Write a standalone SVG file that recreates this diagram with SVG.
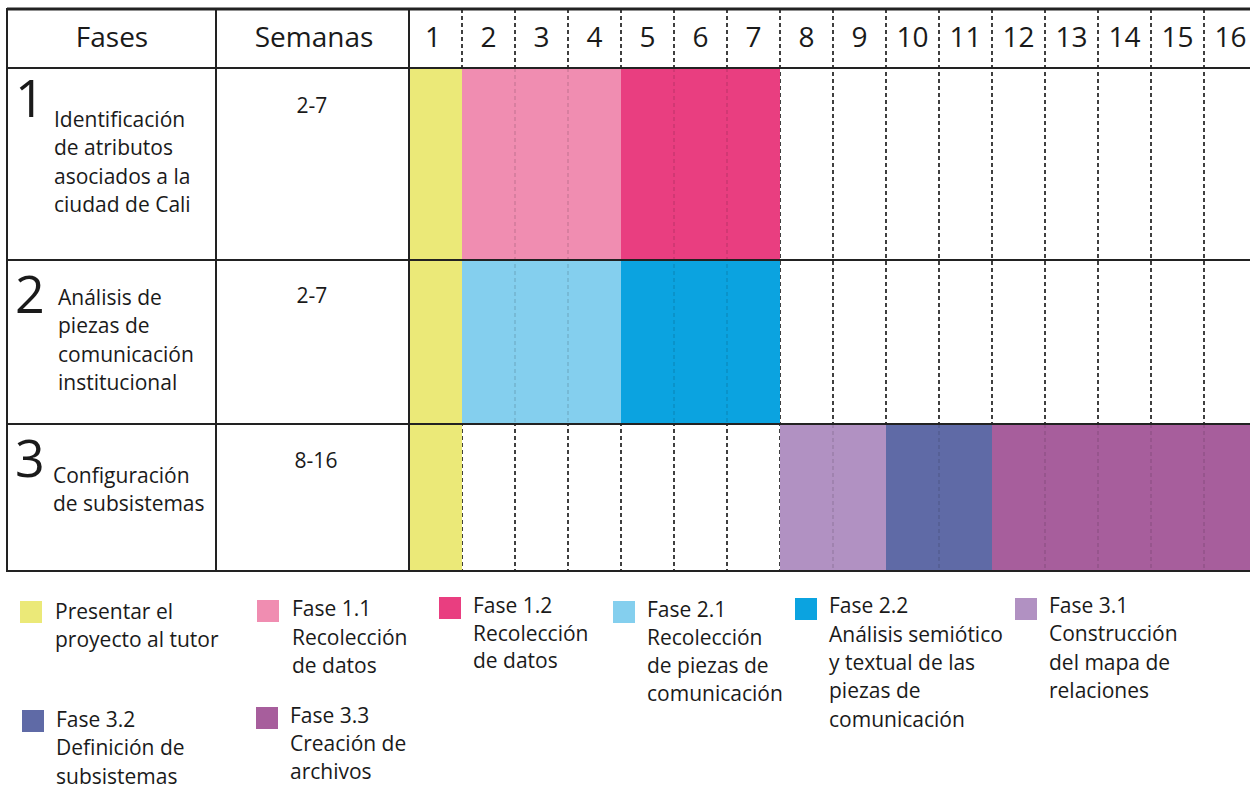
<svg xmlns="http://www.w3.org/2000/svg" width="1250" height="788" viewBox="0 0 1250 788">
<style>
text{font-family:"Open Sans",Lato,"Liberation Sans",sans-serif;fill:#1a1a1a}
.h{font-size:28px;text-anchor:middle}
.big{font-size:52px}
.t{font-size:21px}
.c{text-anchor:middle}
.grid{stroke:#222;stroke-width:2;fill:none}
.dash{stroke:#111;stroke-width:1.6;stroke-dasharray:4 3}
.dashf{stroke:#111;stroke-width:1.6;stroke-dasharray:4 3;stroke-opacity:0.13}
</style>
<rect width="1250" height="788" fill="#fff"/>
<g id="connectors">
<g id="dashes-under" class="dash">
<line x1="462" y1="9" x2="462" y2="571"/><line x1="515" y1="9" x2="515" y2="571"/><line x1="568" y1="9" x2="568" y2="571"/><line x1="621" y1="9" x2="621" y2="571"/><line x1="674" y1="9" x2="674" y2="571"/><line x1="727" y1="9" x2="727" y2="571"/><line x1="780" y1="9" x2="780" y2="571"/><line x1="833" y1="9" x2="833" y2="571"/><line x1="886" y1="9" x2="886" y2="571"/><line x1="939" y1="9" x2="939" y2="571"/><line x1="992" y1="9" x2="992" y2="571"/><line x1="1045" y1="9" x2="1045" y2="571"/><line x1="1098" y1="9" x2="1098" y2="571"/><line x1="1151" y1="9" x2="1151" y2="571"/><line x1="1204" y1="9" x2="1204" y2="571"/>
</g>
</g>
<g id="bars">
<rect x="409" y="68" width="53" height="503" fill="#EBE978"/>
<rect x="462" y="68" width="159" height="192" fill="#F08DB1"/>
<rect x="621" y="68" width="159" height="192" fill="#E93E80"/>
<rect x="462" y="260" width="159" height="164" fill="#84CFEE"/>
<rect x="621" y="260" width="159" height="164" fill="#0BA3E0"/>
<rect x="780" y="425" width="106" height="146" fill="#B191C2"/>
<rect x="886" y="424" width="106" height="146" fill="#5F6AA6"/>
<rect x="992" y="424" width="258" height="147" fill="#A75E9C"/>
</g>
<g id="dashes-over" class="dashf">
<line x1="515" y1="68" x2="515" y2="424"/><line x1="568" y1="68" x2="568" y2="424"/><line x1="674" y1="68" x2="674" y2="424"/><line x1="727" y1="68" x2="727" y2="424"/><line x1="833" y1="424" x2="833" y2="571"/><line x1="939" y1="424" x2="939" y2="571"/><line x1="1045" y1="424" x2="1045" y2="571"/><line x1="1098" y1="424" x2="1098" y2="571"/><line x1="1151" y1="424" x2="1151" y2="571"/><line x1="1204" y1="424" x2="1204" y2="571"/>
</g>
<g id="table-grid" class="grid">
<line x1="7" y1="9" x2="1250" y2="9" stroke-width="3"/>
<line x1="7" y1="68" x2="1250" y2="68"/>
<line x1="7" y1="260" x2="1250" y2="260"/>
<line x1="7" y1="424" x2="1250" y2="424"/>
<line x1="7" y1="571" x2="1250" y2="571"/>
<line x1="7" y1="8" x2="7" y2="572"/>
<line x1="216" y1="8" x2="216" y2="572"/>
<line x1="409" y1="8" x2="409" y2="572"/>
</g>
<g id="header">
<text class="h" x="112" y="47">Fases</text>
<text class="h" x="314" y="47">Semanas</text>
<text class="h" x="433" y="47">1</text><text class="h" x="488.5" y="47">2</text><text class="h" x="541.5" y="47">3</text><text class="h" x="594.5" y="47">4</text><text class="h" x="647.5" y="47">5</text><text class="h" x="700.5" y="47">6</text><text class="h" x="753.5" y="47">7</text><text class="h" x="806.5" y="47">8</text><text class="h" x="859.5" y="47">9</text><text class="h" x="912.5" y="47">10</text><text class="h" x="965.5" y="47">11</text><text class="h" x="1018.5" y="47">12</text><text class="h" x="1071.5" y="47">13</text><text class="h" x="1124.5" y="47">14</text><text class="h" x="1177.5" y="47">15</text><text class="h" x="1230.5" y="47">16</text>
</g>
<g id="fase-1">
<text class="big" x="15" y="117">1</text>
<text class="t" x="54" y="127">Identificación</text>
<text class="t" x="54" y="155">de atributos</text>
<text class="t" x="54" y="184">asociados a la</text>
<text class="t" x="54" y="212">ciudad de Cali</text>
<text class="t c" x="312" y="113">2-7</text>
</g>
<g id="fase-2">
<text class="big" x="15" y="313">2</text>
<text class="t" x="58" y="305">Análisis de</text>
<text class="t" x="58" y="333">piezas de</text>
<text class="t" x="58" y="362">comunicación</text>
<text class="t" x="58" y="390">institucional</text>
<text class="t c" x="312" y="303">2-7</text>
</g>
<g id="fase-3">
<text class="big" x="15" y="477">3</text>
<text class="t" x="53" y="483">Configuración</text>
<text class="t" x="53" y="511">de subsistemas</text>
<text class="t c" x="316" y="468">8-16</text>
</g>
<g id="legend-presentar">
<rect x="20" y="601" width="22" height="22" fill="#EBE978"/>
<text class="t" x="55" y="619">Presentar el</text>
<text class="t" x="55" y="647">proyecto al tutor</text>
</g>
<g id="legend-1-1">
<rect x="257" y="600" width="22" height="22" fill="#F08DB1"/>
<text class="t" x="292" y="616">Fase 1.1</text>
<text class="t" x="292" y="645">Recolección</text>
<text class="t" x="292" y="673">de datos</text>
</g>
<g id="legend-1-2">
<rect x="439" y="597" width="22" height="22" fill="#E93E80"/>
<text class="t" x="473" y="613">Fase 1.2</text>
<text class="t" x="473" y="641">Recolección</text>
<text class="t" x="473" y="668">de datos</text>
</g>
<g id="legend-2-1">
<rect x="613" y="601" width="22" height="22" fill="#84CFEE"/>
<text class="t" x="647" y="617">Fase 2.1</text>
<text class="t" x="647" y="645">Recolección</text>
<text class="t" x="647" y="673">de piezas de</text>
<text class="t" x="647" y="701">comunicación</text>
</g>
<g id="legend-2-2">
<rect x="795" y="598" width="22" height="22" fill="#0BA3E0"/>
<text class="t" x="829" y="613">Fase 2.2</text>
<text class="t" x="829" y="642">Análisis semiótico</text>
<text class="t" x="829" y="670">y textual de las</text>
<text class="t" x="829" y="698">piezas de</text>
<text class="t" x="829" y="727">comunicación</text>
</g>
<g id="legend-3-1">
<rect x="1015" y="598" width="22" height="22" fill="#B191C2"/>
<text class="t" x="1049" y="613">Fase 3.1</text>
<text class="t" x="1049" y="641">Construcción</text>
<text class="t" x="1049" y="670">del mapa de</text>
<text class="t" x="1049" y="698">relaciones</text>
</g>
<g id="legend-3-2">
<rect x="22" y="710" width="22" height="22" fill="#5F6AA6"/>
<text class="t" x="56" y="727">Fase 3.2</text>
<text class="t" x="56" y="755">Definición de</text>
<text class="t" x="56" y="784">subsistemas</text>
</g>
<g id="legend-3-3">
<rect x="256" y="707" width="22" height="22" fill="#A75E9C"/>
<text class="t" x="290" y="723">Fase 3.3</text>
<text class="t" x="290" y="751">Creación de</text>
<text class="t" x="290" y="779">archivos</text>
</g>
</svg>
